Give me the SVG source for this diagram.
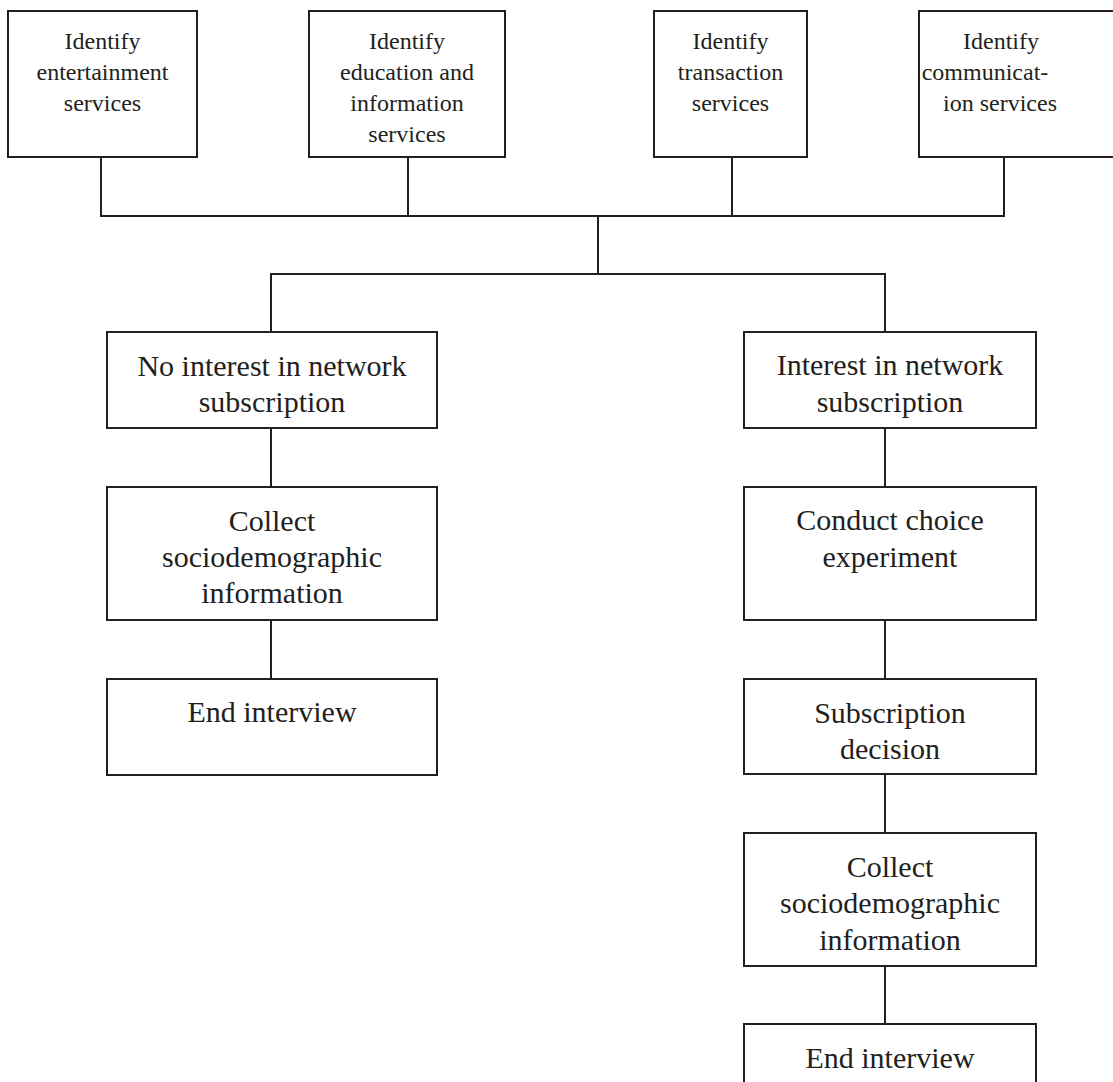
<svg xmlns="http://www.w3.org/2000/svg" width="1113" height="1082" viewBox="0 0 1113 1082">
<style>
.box{fill:#fff;stroke:#231f20;stroke-width:2}
.ln{fill:none;stroke:#231f20;stroke-width:2}
.s{font-family:"Liberation Serif","Times New Roman",serif;font-size:24px;fill:#231f20;text-anchor:middle}
.m{font-family:"Liberation Serif","Times New Roman",serif;font-size:30px;fill:#231f20;text-anchor:middle}
</style>
<rect width="1113" height="1082" fill="#fff"/>
<g id="connectors">
<path class="ln" d="M101 157V216H1004V157M408 157V216M732 157V216M598 216V274M271 332V274H885V332"/>
<path class="ln" d="M271 428V487M271 620V679"/>
<path class="ln" d="M885 428V487M885 620V679M885 774V833M885 966V1024"/>
</g>
<g id="n1"><rect class="box" x="8" y="11" width="189" height="146"/>
<text class="s" x="102.5" y="49">Identify</text><text class="s" x="102.5" y="80">entertainment</text><text class="s" x="102.5" y="111">services</text></g>
<g id="n2"><rect class="box" x="309" y="11" width="196" height="146"/>
<text class="s" x="407" y="49">Identify</text><text class="s" x="407" y="80">education and</text><text class="s" x="407" y="111">information</text><text class="s" x="407" y="142">services</text></g>
<g id="n3"><rect class="box" x="654" y="11" width="153" height="146"/>
<text class="s" x="730.5" y="49">Identify</text><text class="s" x="730.5" y="80">transaction</text><text class="s" x="730.5" y="111">services</text></g>
<g id="n4"><rect class="box" x="919" y="11" width="210" height="146"/>
<text class="s" x="1001" y="49">Identify</text><text class="s" x="985" y="80">communicat-</text><text class="s" x="1000" y="111">ion services</text></g>
<g id="n5"><rect class="box" x="107" y="332" width="330" height="96"/>
<text class="m" x="272" y="376">No interest in network</text><text class="m" x="272" y="412">subscription</text></g>
<g id="n6"><rect class="box" x="107" y="487" width="330" height="133"/>
<text class="m" x="272" y="531">Collect</text><text class="m" x="272" y="567">sociodemographic</text><text class="m" x="272" y="603">information</text></g>
<g id="n7"><rect class="box" x="107" y="679" width="330" height="96"/>
<text class="m" x="272" y="722">End interview</text></g>
<g id="n8"><rect class="box" x="744" y="332" width="292" height="96"/>
<text class="m" x="890" y="375">Interest in network</text><text class="m" x="890" y="412">subscription</text></g>
<g id="n9"><rect class="box" x="744" y="487" width="292" height="133"/>
<text class="m" x="890" y="530">Conduct choice</text><text class="m" x="890" y="567">experiment</text></g>
<g id="n10"><rect class="box" x="744" y="679" width="292" height="95"/>
<text class="m" x="890" y="723">Subscription</text><text class="m" x="890" y="759">decision</text></g>
<g id="n11"><rect class="box" x="744" y="833" width="292" height="133"/>
<text class="m" x="890" y="877">Collect</text><text class="m" x="890" y="913">sociodemographic</text><text class="m" x="890" y="950">information</text></g>
<g id="n12"><rect class="box" x="744" y="1024" width="292" height="80"/>
<text class="m" x="890" y="1068">End interview</text></g>
</svg>
